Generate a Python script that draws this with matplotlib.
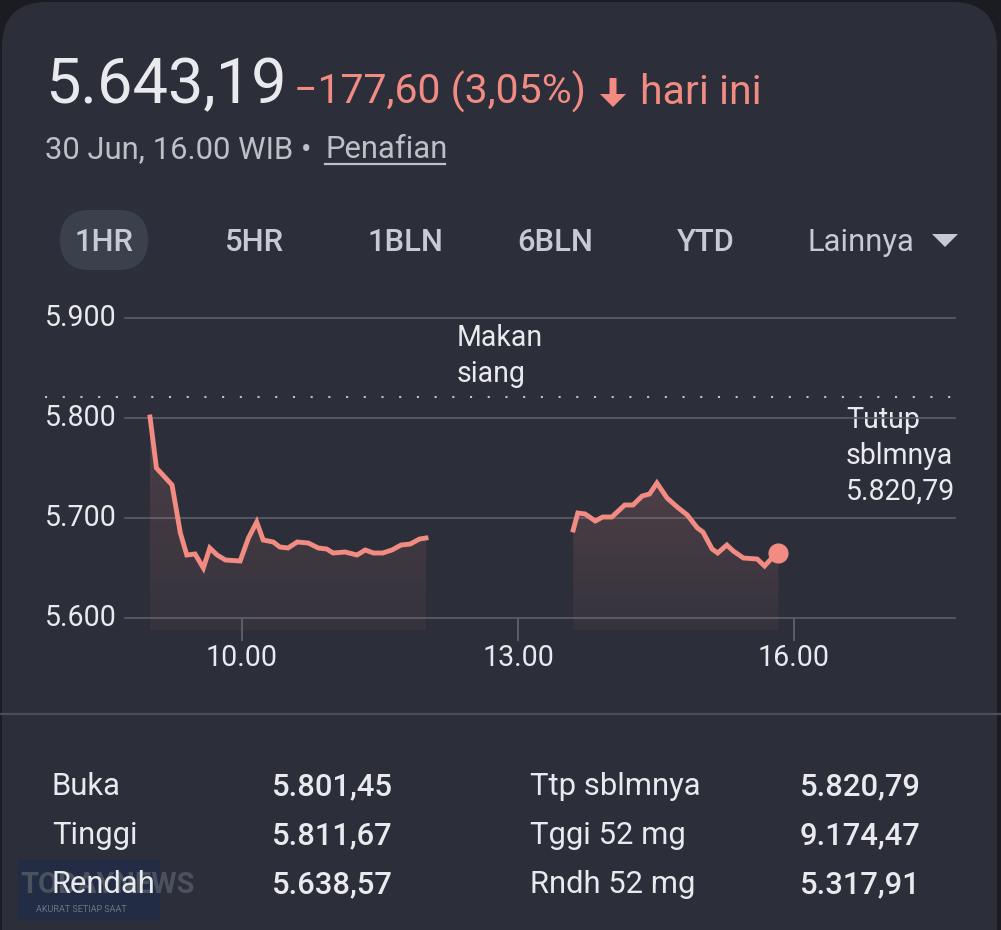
import numpy as np
import matplotlib
matplotlib.use("Agg")
from matplotlib import pyplot as plt
from matplotlib.patches import FancyBboxPatch, Rectangle, FancyArrow, Polygon

# intraday values (hour of day, index level)
hours_am = [9.00, 9.07, 9.24, 9.33, 9.40, 9.49, 9.58, 9.65, 9.73, 9.82, 9.98,
            10.07, 10.16, 10.23, 10.34, 10.41, 10.50, 10.60, 10.72, 10.83,
            10.92, 10.99, 11.12, 11.25, 11.34, 11.43, 11.53, 11.63, 11.73,
            11.83, 11.93, 12.00]
values_am = [5801, 5750, 5733, 5685, 5663, 5664, 5650, 5670, 5663, 5658, 5657,
             5680, 5696, 5678, 5676, 5671, 5670, 5676, 5675, 5670,
             5669, 5665, 5666, 5663, 5668, 5665, 5665, 5668, 5673,
             5674, 5679, 5680]
hours_pm = [13.60, 13.65, 13.73, 13.84, 13.92, 14.02, 14.16, 14.25, 14.35,
            14.43, 14.51, 14.62, 14.73, 14.84, 14.95, 15.01, 15.11, 15.17,
            15.27, 15.34, 15.45, 15.60, 15.68, 15.76, 15.83]
values_pm = [5688, 5705, 5704, 5697, 5701, 5701, 5713, 5713, 5722,
             5724, 5735, 5720, 5711, 5703, 5690, 5686, 5669, 5665,
             5673, 5667, 5660, 5659, 5652, 5660, 5665]

prev_close = 5820.79
y_ticks = [5600, 5700, 5800, 5900]
y_labels = ["5.600", "5.700", "5.800", "5.900"]
x_ticks = [10, 13, 16]
x_labels = ["10.00", "13.00", "16.00"]
tabs = ["1HR", "5HR", "1BLN", "6BLN", "YTD"]
stat_names_1 = ["Buka", "Tinggi", "Rendah"]
stat_vals_1 = ["5.801,45", "5.811,67", "5.638,57"]
stat_names_2 = ["Ttp sblmnya", "Tggi 52 mg", "Rndh 52 mg"]
stat_vals_2 = ["5.820,79", "9.174,47", "5.317,91"]

BG = "#2c2f3a"
RED = "#f28b82"
WHITE = "#e8eaed"
GREY = "#bdc1c6"
GRID = "#5b5f69"
W, H = 1001, 930
plt.rcParams["font.family"] = ["Roboto", "DejaVu Sans"]


def pt(px):
    return px / (100 / 72)


fig = plt.figure(figsize=(W / 100, H / 100), dpi=100)
fig.patch.set_facecolor("#1b1c21")

# background layer in pixel coordinates
bg = fig.add_axes([0, 0, 1, 1])
bg.set_xlim(0, W)
bg.set_ylim(H, 0)
bg.axis("off")
bg.add_patch(FancyBboxPatch((2, 2), W - 6, H + 60, boxstyle="round,pad=0,rounding_size=45",
                            fc=BG, ec="none"))

# header
bg.text(45, 103, "5.643,19", fontsize=pt(63), color=WHITE, va="baseline")
bg.text(294, 104, "\u2212177,60 (3,05%)", fontsize=pt(41), color=RED, va="baseline")
bg.add_patch(FancyArrow(613, 78, 0, 16, width=7, head_width=26, head_length=13,
                        length_includes_head=False, fc=RED, ec="none"))
bg.text(640, 104, "hari ini", fontsize=pt(41), color=RED, va="baseline")
bg.text(45, 158, "30 Jun, 16.00 WIB \u2022 ", fontsize=pt(31), color=GREY, va="baseline")
bg.text(325, 158, "Penafian", fontsize=pt(31), color=GREY, va="baseline")
bg.plot([325, 445], [164, 164], color=GREY, lw=1.6)

# range tabs
bg.add_patch(FancyBboxPatch((60, 210), 88, 60, boxstyle="round,pad=0,rounding_size=30",
                            fc="#3b404d", ec="none"))
for name, cx in zip(tabs, [104, 254, 405, 555, 706]):
    bg.text(cx, 251, name, fontsize=pt(31), color="#c6cad2", ha="center", va="baseline",
            fontweight="medium")
bg.text(808, 251, "Lainnya", fontsize=pt(31), color="#c6cad2", va="baseline")
bg.add_patch(Polygon([(932, 234), (958, 234), (945, 247)], closed=True, fc="#c6cad2", ec="none"))

# chart annotations
bg.text(457, 346, "Makan", fontsize=pt(28.5), color=WHITE, va="baseline")
bg.text(457, 382, "siang", fontsize=pt(28.5), color=WHITE, va="baseline")
for i, s in enumerate(["Tutup", "sblmnya", "5.820,79"]):
    bg.text(846, 428 + 36 * i, s, fontsize=pt(28.5), color=WHITE, va="baseline")

# separator and stats
bg.plot([0, W], [714, 714], color="#4a4e59", lw=1.6)
bg.add_patch(Rectangle((18, 860), 142, 60, fc="#1f2c49", ec="none", alpha=0.7, zorder=1))
bg.text(20, 893, "TODAYNEWS", fontsize=pt(29), color="#4b515d", fontweight="bold",
        va="baseline", zorder=1)
bg.text(36, 912, "AKURAT SETIAP SAAT", fontsize=pt(9), color="#6d7383", va="baseline", zorder=1)
for i in range(3):
    yb = 795 + 49 * i
    bg.text(52, yb, stat_names_1[i], fontsize=pt(31), color=WHITE, va="baseline", zorder=3)
    bg.text(272, yb, stat_vals_1[i], fontsize=pt(31), color=WHITE, va="baseline",
            fontweight="medium", zorder=3)
    bg.text(530, yb, stat_names_2[i], fontsize=pt(31), color=WHITE, va="baseline", zorder=3)
    bg.text(800, yb, stat_vals_2[i], fontsize=pt(31), color=WHITE, va="baseline",
            fontweight="medium", zorder=3)

# price chart
x_lo, x_hi = 45, 956
y_top, y_bot = 300, 640
ax = fig.add_axes([x_lo / W, 1 - y_bot / H, (x_hi - x_lo) / W, (y_bot - y_top) / H])
ax.set_facecolor("none")
ax.set_xlim(10 + (x_lo - 242) / 92, 10 + (x_hi - 242) / 92)
ax.set_ylim(5600 - (y_bot - 618), 5600 + (618 - y_top))
ax.axis("off")

grid_start = (125 - x_lo) / (x_hi - x_lo)
for v, lab in zip(y_ticks, y_labels):
    ax.axhline(v, xmin=grid_start, xmax=1, color=GRID, lw=1.2)
    ax.text(0, v, lab, transform=ax.get_yaxis_transform(), fontsize=pt(28.5), color=WHITE,
            va="center", ha="left")
ax.axhline(prev_close, color=GREY, lw=1.5, ls=(0, (1, 7.5)))

base = 5588
for hx, vy in [(hours_am, values_am), (hours_pm, values_pm)]:
    hx = np.array(hx)
    vy = np.array(vy)
    poly = ax.fill_between(hx, vy, base, color="none", lw=0)
    grad = np.zeros((100, 1, 4))
    grad[:, 0, :3] = matplotlib.colors.to_rgb(RED)
    grad[:, 0, 3] = np.linspace(0.17, 0.05, 100)
    im = ax.imshow(grad, extent=[hx[0], hx[-1], base, vy.max()], aspect="auto",
                   origin="upper", zorder=2)
    im.set_clip_path(poly.get_paths()[0], transform=ax.transData)
    ax.plot(hx, vy, color=RED, lw=3.5, solid_joinstyle="miter", zorder=3)
ax.scatter([hours_pm[-1]], [values_pm[-1]], s=210, color=RED, zorder=4, lw=0)

for t, lab in zip(x_ticks, x_labels):
    ax.plot([t, t], [5600, ax.get_ylim()[0]], color=GRID, lw=1.4, clip_on=False)
    ax.text(t, 5600 - 48, lab, fontsize=pt(28.5), color=WHITE, ha="center", va="baseline")

fig.savefig("out.png", dpi=100, facecolor=fig.get_facecolor())
